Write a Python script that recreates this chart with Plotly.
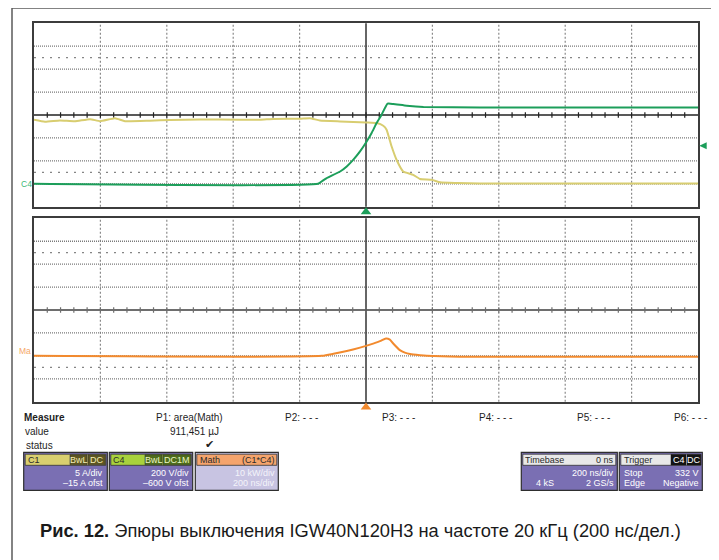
import plotly.graph_objects as go

# The page body has an 8 px margin, so the figure is made 8 px smaller on each
# axis and all layout positions are measured in window pixels minus that margin.
PAGE_MARGIN = 8
W, H = 719 - PAGE_MARGIN, 560 - PAGE_MARGIN

# ---------------- data ----------------
# C1: collector current, A (5 A/div, -15 A offset)
c1_time_ns = [-1000, -967, -922, -877, -831, -801, -756, -726, -651, -590, -500,
              -380, -319, -279, -199, -169, -139, -78, 2, 32, 52, 62, 77, 92,
              112, 142, 163, 198, 223, 273, 343, 1000]
c1_current_a = [13.97, 13.55, 13.82, 13.65, 14.1, 13.65, 14.3, 13.65, 13.76, 13.9, 14.04,
                13.97, 13.97, 14.15, 14.19, 14.3, 13.82, 13.6, 13.38, 13.25, 12.66, 11.8,
                8.18, 5.24, 2.68, 1.96, 1.04, 0.89, 0.31, 0.17, 0.08, 0.05]

# C4: collector-emitter voltage, V (200 V/div, -600 V offset)
c4_time_ns = [-1000, -144, -129, -118, -78, -58, -38, -18, 2, 17, 32, 47, 65,
              82, 123, 173, 343, 1000]
c4_voltage_v = [0, 0, 30, 50, 107, 151, 210, 282, 369, 443, 530, 603, 699,
                696, 681, 670, 666, 666]

# Math = C1*C4: instantaneous power, kW (10 kW/div)
math_time_ns = [-1000, -133, -98, -58, -18, 12, 42, 60, 72, 82, 102, 117, 133,
                163, 183, 283, 1000]
math_power_kw = [0.0, 0.0, 0.9, 2.1, 3.6, 4.9, 6.4, 7.6, 7.1, 5.4, 2.5, 1.4, 0.8,
                 0.3, 0.05, -0.4, -0.4]

trigger_level_v = 332

measure_labels = ["P1: area(Math)", "P2: - - -", "P3: - - -", "P4: - - -", "P5: - - -", "P6: - - -"]
measure_value = "911,451 µJ"

caption_bold = "Рис. 12."
caption_text = "Эпюры выключения IGW40N120H3 на частоте 20 кГц (200 нс/дел.)"

# ---------------- helpers ----------------
def px(x):
    return (x - PAGE_MARGIN) / W


def py(y):
    return 1 - (y - PAGE_MARGIN) / H


FONT = "Liberation Sans, Arial, sans-serif"

fig = go.Figure()

fig.add_trace(go.Scatter(x=c1_time_ns, y=c1_current_a, xaxis="x", yaxis="y", mode="lines",
                         line=dict(color="#d8cd70", width=2, shape="spline", smoothing=0.4),
                         hoverinfo="skip", showlegend=False))
fig.add_trace(go.Scatter(x=c4_time_ns, y=c4_voltage_v, xaxis="x", yaxis="y2", mode="lines",
                         line=dict(color="#1c9e5a", width=2, shape="spline", smoothing=0.4),
                         hoverinfo="skip", showlegend=False))
fig.add_trace(go.Scatter(x=math_time_ns, y=math_power_kw, xaxis="x2", yaxis="y3", mode="lines",
                         line=dict(color="#f28a2e", width=2, shape="spline", smoothing=0.6),
                         hoverinfo="skip", showlegend=False))

ax_common = dict(showgrid=False, zeroline=False, showticklabels=False, ticks="",
                 showline=True, mirror=True, linecolor="#3c3c3c", linewidth=1.5,
                 fixedrange=True)

fig.update_layout(
    width=W, height=H,
    margin=dict(l=0, r=0, t=0, b=0),
    paper_bgcolor="white", plot_bgcolor="white",
    showlegend=False,
    xaxis=dict(domain=[px(34), px(698)], range=[-1000, 1000], anchor="y", **ax_common),
    yaxis=dict(domain=[py(206.7), py(23.3)], range=[-5, 35], anchor="x", **ax_common),
    yaxis2=dict(overlaying="y", range=[-200, 1400], visible=False, anchor="x", fixedrange=True),
    xaxis2=dict(domain=[px(34), px(698)], range=[-1000, 1000], anchor="y3", **ax_common),
    yaxis3=dict(domain=[py(401.7), py(218.3)], range=[-20, 60], anchor="x2", **ax_common),
)

shapes = []


def line(x0, y0, x1, y1, xref, yref, color, width=1, dash="solid", layer="below"):
    shapes.append(dict(type="line", x0=x0, y0=y0, x1=x1, y1=y1, xref=xref, yref=yref,
                       line=dict(color=color, width=width, dash=dash), layer=layer))


# grids for both screens
for xr, yr, center, unit, tick, ccol, cw in [("x", "y", 15, 5, 0.6, "#222222", 1.5),
                                             ("x2", "y3", 20, 10, 1.2, "#6e6e6e", 2)]:
    for k in range(-4, 5):
        if k == 0:
            continue
        line(200 * k, 0, 200 * k, 1, xr, yr + " domain", "#8a8a8a", 1.2, "2px,2px")
    for k in [-3, -2, -1, 1, 2, 3]:
        line(0, center + unit * k, 1, center + unit * k, xr + " domain", yr, "#7a7a7a", 1.3, "1px,1px")
    for k in [-2.5, 2.5]:
        line(0, center + unit * k, 1, center + unit * k, xr + " domain", yr, "#858585", 1.2, "2px,6px")
    line(0, center, 1, center, xr + " domain", yr, ccol, cw)
    for t in range(-960, 1000, 40):
        line(t, center - tick, t, center + tick, xr, yr, ccol, 1.2)
    line(0, 0, 0, 1, xr, yr + " domain", "#333333", 1.5)

# outer frame
line(px(12), py(8), px(12), 0, "paper", "paper", "#5a5a5a", 1.5)
line(px(12), py(8), px(714), py(8), "paper", "paper", "#5a5a5a", 1.5)
line(px(714), py(8), px(714), 0, "paper", "paper", "#5a5a5a", 1.5)

# trigger / position markers
shapes.append(dict(type="path", xref="x", yref="paper",
                   path=f"M 0 {py(207.3)} L -16 {py(214.3)} L 16 {py(214.3)} Z",
                   fillcolor="#1c9e5a", line=dict(width=0)))
shapes.append(dict(type="path", xref="x2", yref="paper",
                   path=f"M 0 {py(402.5)} L -16 {py(409.5)} L 16 {py(409.5)} Z",
                   fillcolor="#f28a2e", line=dict(width=0)))
shapes.append(dict(type="path", xref="paper", yref="y2",
                   path=f"M {px(699.3)} {trigger_level_v} L {px(706.7)} {trigger_level_v + 30} "
                        f"L {px(706.7)} {trigger_level_v - 30} Z",
                   fillcolor="#1c9e5a", line=dict(width=0)))


def rect(x0, y0, x1, y1, fill, lcol="#333333", lw=1):
    shapes.append(dict(type="rect", xref="paper", yref="paper",
                       x0=px(x0), x1=px(x1), y0=py(y1), y1=py(y0),
                       fillcolor=fill, line=dict(color=lcol, width=lw), layer="above"))


annots = []


def txt(x, y, s, size=10, color="#222222", anchor="left", family=FONT):
    annots.append(dict(x=px(x), y=py(y), xref="paper", yref="paper", text=s, showarrow=False,
                       xanchor=anchor, yanchor="middle", borderpad=0,
                       font=dict(size=size, color=color, family=family)))


PURPLE = "#7a6fb3"
# C1 box
rect(23.7, 452.3, 107.3, 490.3, PURPLE, "#2e2e2e", 1.2)
rect(25.2, 454.2, 105.8, 465.3, "#d9cf6f", "#333333", 0.8)
rect(70, 454.7, 87, 464.8, "#5d5622", "#333333", 0.6)
rect(88, 454.7, 105.3, 464.8, "#5d5622", "#333333", 0.6)
txt(26.5, 460, "C1", 9, "#2a2a2a")
txt(78.5, 460, "BwL", 9, "#f3edb5", "center")
txt(96.7, 460, "DC", 9, "#f3edb5", "center")
txt(104.5, 472.5, "5 A/div", 9, "white", "right")
txt(104.5, 482.5, "\u201315 A ofst", 9, "white", "right")

# C4 box
rect(109.3, 452.3, 192.7, 490.3, PURPLE, "#2e2e2e", 1.2)
rect(110.8, 454.2, 191.2, 465.3, "#a8d23c", "#333333", 0.8)
rect(145, 454.7, 162, 464.8, "#4e6c1b", "#333333", 0.6)
rect(163, 454.7, 190.7, 464.8, "#4e6c1b", "#333333", 0.6)
txt(112, 460, "C4", 9, "#2a2a2a")
txt(153.5, 460, "BwL", 9, "#eaf6c6", "center")
txt(176.8, 460, "DC1M", 9, "#eaf6c6", "center")
txt(190, 472.5, "200 V/div", 9, "white", "right")
txt(190, 482.5, "\u2013600 V ofst", 9, "white", "right")

# Math box
rect(195.3, 452.3, 278.3, 490.3, "#c8c4e2", "#2e2e2e", 1.2)
rect(196.8, 454.2, 276.8, 465.3, "#f5a46c", "#333333", 0.8)
txt(198.5, 460, "Math", 9, "#2a2a2a")
txt(275.5, 460, "(C1*C4)", 9, "#2a2a2a", "right")
txt(275.5, 472.5, "10 kW/div", 9, "#f4f4fa", "right")
txt(275.5, 482.5, "200 ns/div", 9, "#f4f4fa", "right")

# Timebase box
rect(521.3, 452.3, 617.3, 490.3, PURPLE, "#2e2e2e", 1.2)
rect(522.8, 454.2, 615.8, 465.3, "#e8e8e8", "#333333", 0.8)
txt(524.3, 460, "Timebase", 9, "#2a2a2a")
txt(614.5, 460, "0 ns", 9, "#2a2a2a", "right")
txt(614.5, 472.5, "200 ns/div", 9, "white", "right")
txt(545, 482.5, "4 kS", 9, "white", "center")
txt(614.5, 482.5, "2 GS/s", 9, "white", "right")

# Trigger box
rect(619.3, 452.3, 702.3, 490.3, PURPLE, "#2e2e2e", 1.2)
rect(620.8, 454.2, 700.8, 465.3, "#e8e8e8", "#333333", 0.8)
rect(671, 454.5, 686, 465, "#141414", "#141414", 0.5)
rect(687, 454.5, 700.8, 465, "#141414", "#141414", 0.5)
txt(622.5, 460, "Trigger", 9, "#2a2a2a")
txt(678.5, 460, "C4", 9, "white", "center")
txt(694, 460, "DC", 9, "white", "center")
txt(622.5, 472.5, "Stop", 9, "white")
txt(700, 472.5, f"{trigger_level_v} V", 9, "white", "right")
txt(622.5, 482.5, "Edge", 9, "white")
txt(700, 482.5, "Negative", 9, "white", "right")

# measurement area
txt(22.5, 417, "<b>Measure</b>", 10, "#1e1e1e")
txt(24, 431.5, "value", 10, "#1e1e1e")
txt(24.5, 445, "status", 10, "#1e1e1e")
for lab, xl in zip(measure_labels, [155, 284, 380.7, 478.3, 576, 673.3]):
    txt(xl, 417, lab, 10, "#1e1e1e")
txt(220.5, 431.5, measure_value, 10, "#1e1e1e", "right")
txt(209, 444.5, "\u2714", 11, "#1e1e1e", "center", "DejaVu Sans")

# channel labels on screen
txt(33, 184, "C4", 8.5, "#3cb878", "right")
txt(32, 351.3, "Ma", 8.5, "#f5a868", "right")

# caption
txt(39, 530, f"<b>{caption_bold}</b> {caption_text}", 18.3, "#1a1a1a")

fig.update_layout(shapes=shapes, annotations=annots)
fig.write_html("out.html")
